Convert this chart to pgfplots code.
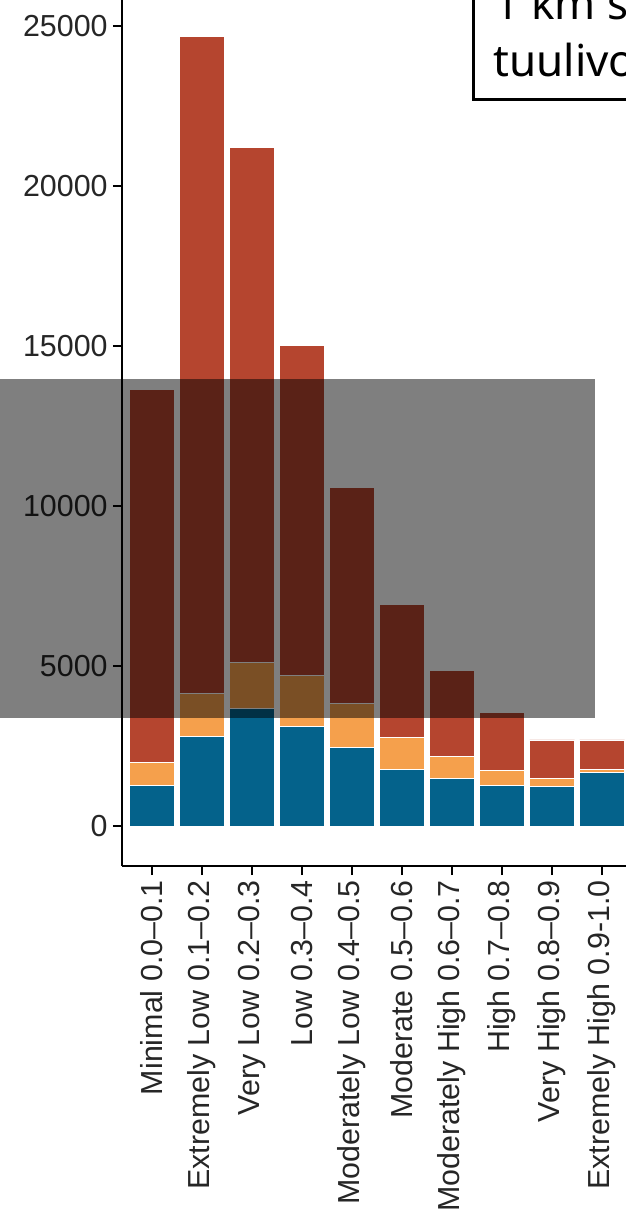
\documentclass[border=0pt]{standalone}
\usepackage{fontspec}
\setmainfont{Liberation Sans}
\newfontfamily\boxfont{Noto Sans}
\usepackage{pgfplots}
\pgfplotsset{compat=1.18}
\definecolor{cblue}{HTML}{04628B}
\definecolor{corange}{HTML}{F5A04C}
\definecolor{cred}{HTML}{B5452F}
\definecolor{ticktext}{HTML}{262626}
\begin{document}
\begin{tikzpicture}
\useasboundingbox (-61pt,-182.5pt) rectangle (252pt,433pt);
\clip (-61pt,-182.5pt) rectangle (252pt,433pt);
\begin{axis}[
  scale only axis, width=252pt, height=433pt,
  xmin=-0.6, xmax=9.48, ymin=-1250, ymax=25812.5,
  ybar stacked, bar width=0.9,
  axis x line*=bottom, axis y line*=left,
  axis line style={line width=1.3pt, black},
  every tick/.style={line width=1.3pt, black},
  tick align=outside, major tick length=4.5pt,
  xtick={0,...,9},
  xticklabels={Minimal 0.0–0.1, Extremely Low 0.1–0.2, Very Low 0.2–0.3, Low 0.3–0.4, Moderately Low 0.4–0.5, Moderate 0.5–0.6, Moderately High 0.6–0.7, High 0.7–0.8, Very High 0.8–0.9, Extremely High 0.9-1.0},
  ytick={0,5000,10000,15000,20000,25000},
  x tick label style={rotate=90, anchor=east, font=\fontsize{15.2}{17}\selectfont, text=ticktext, inner sep=2.5pt},
  y tick label style={font=\fontsize{15.2}{17}\selectfont, text=ticktext, inner sep=2.5pt},
  /pgf/number format/assume math mode=true,
  /pgf/number format/set thousands separator={},
  scaled y ticks=false,
  every axis plot/.append style={draw=white, line width=0.4pt},
]
\addplot[fill=cblue] coordinates {(0,1280) (1,2790) (2,3680) (3,3120) (4,2450) (5,1780) (6,1490) (7,1280) (8,1230) (9,1670)};
\addplot[fill=corange] coordinates {(0,700) (1,1350) (2,1430) (3,1590) (4,1390) (5,990) (6,680) (7,470) (8,260) (9,100)};
\addplot[fill=cred] coordinates {(0,11650) (1,20530) (2,16100) (3,10310) (4,6750) (5,4160) (6,2690) (7,1800) (8,1200) (9,920)};
\end{axis}
\fill[black, fill opacity=0.5] (-61pt,74pt) rectangle (236.5pt,243.5pt);
\draw[line width=1.5pt, fill=white] (175.5pt,383pt) rectangle (300pt,460pt);
\node[anchor=base west, inner sep=0pt, font=\boxfont\fontsize{22}{26}\selectfont] at (186pt,423pt) {1 km säteellä};
\node[anchor=base west, inner sep=0pt, font=\boxfont\fontsize{22}{26}\selectfont] at (185.5pt,394.5pt) {tuulivoimaloista};
\end{tikzpicture}
\end{document}
